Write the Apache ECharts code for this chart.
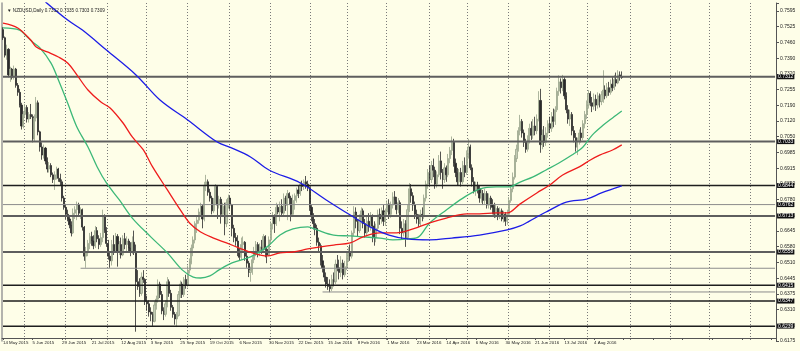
<!DOCTYPE html>
<html>
<head>
<meta charset="utf-8">
<script src="https://cdn.jsdelivr.net/npm/echarts@6.0.0/dist/echarts.min.js"></script>
<style>
  html, body { margin: 0; padding: 0; background: #fefee8; }
  #chart { width: 800px; height: 351px; }
</style>
</head>
<body>
<div id="chart"></div>
<script>
'use strict';

// NZDUSD daily, 14 May 2015 .. late Aug 2016, one row per bar: [open, close, low, high]
const candles = [
  [0.7515,0.7480,0.7470,0.7525],[0.7480,0.7405,0.7395,0.7485],[0.7405,0.7430,0.7385,0.7450],[0.7430,0.7320,0.7310,0.7435],
  [0.7320,0.7345,0.7290,0.7355],[0.7345,0.7310,0.7300,0.7350],[0.7310,0.7345,0.7300,0.7360],[0.7345,0.7275,0.7265,0.7350],
  [0.7275,0.7245,0.7230,0.7285],[0.7245,0.7190,0.7180,0.7260],[0.7190,0.7100,0.7085,0.7200],[0.7100,0.7150,0.7090,0.7165],
  [0.7150,0.7180,0.7135,0.7195],[0.7180,0.7130,0.7115,0.7190],[0.7130,0.7150,0.7115,0.7160],[0.7150,0.7140,0.7130,0.7195],
  [0.7140,0.7045,0.7030,0.7150],[0.7045,0.7135,0.7035,0.7150],[0.7135,0.7200,0.7120,0.7225],[0.7200,0.7075,0.7060,0.7210],
  [0.7075,0.7010,0.6990,0.7080],[0.7010,0.6975,0.6955,0.7030],[0.6975,0.7005,0.6960,0.7020],[0.7005,0.6950,0.6935,0.7010],
  [0.6950,0.6915,0.6900,0.6965],[0.6915,0.6930,0.6900,0.6945],[0.6930,0.6890,0.6880,0.6940],[0.6890,0.6870,0.6855,0.6900],
  [0.6870,0.6890,0.6825,0.6905],[0.6890,0.6915,0.6870,0.6925],[0.6915,0.6875,0.6860,0.6920],[0.6875,0.6860,0.6845,0.6895],
  [0.6860,0.6790,0.6775,0.6870],[0.6790,0.6750,0.6740,0.6800],[0.6750,0.6720,0.6700,0.6765],[0.6720,0.6700,0.6690,0.6740],
  [0.6700,0.6675,0.6660,0.6710],[0.6675,0.6640,0.6625,0.6690],[0.6640,0.6725,0.6635,0.6745],[0.6725,0.6740,0.6700,0.6755],
  [0.6740,0.6760,0.6695,0.6775],[0.6760,0.6725,0.6710,0.6770],[0.6725,0.6740,0.6700,0.6750],[0.6740,0.6665,0.6650,0.6745],
  [0.6665,0.6540,0.6520,0.6670],[0.6540,0.6555,0.6490,0.6580],[0.6555,0.6595,0.6540,0.6610],[0.6595,0.6625,0.6570,0.6640],
  [0.6625,0.6605,0.6585,0.6645],[0.6605,0.6585,0.6570,0.6630],[0.6585,0.6650,0.6575,0.6670],[0.6650,0.6615,0.6600,0.6665],
  [0.6615,0.6590,0.6570,0.6630],[0.6590,0.6620,0.6580,0.6640],[0.6620,0.6715,0.6600,0.6740],[0.6715,0.6650,0.6640,0.6720],
  [0.6650,0.6595,0.6580,0.6665],[0.6595,0.6540,0.6525,0.6610],[0.6540,0.6520,0.6490,0.6560],[0.6520,0.6590,0.6500,0.6610],
  [0.6590,0.6560,0.6545,0.6630],[0.6560,0.6625,0.6555,0.6640],[0.6625,0.6560,0.6495,0.6635],[0.6560,0.6590,0.6545,0.6605],
  [0.6590,0.6545,0.6530,0.6620],[0.6545,0.6615,0.6540,0.6630],[0.6615,0.6590,0.6570,0.6640],[0.6590,0.6605,0.6555,0.6625],
  [0.6605,0.6575,0.6560,0.6615],[0.6575,0.6560,0.6540,0.6600],[0.6560,0.6600,0.6550,0.6625],[0.6600,0.6560,0.6545,0.6650],
  [0.6560,0.6430,0.6215,0.6590],[0.6430,0.6410,0.6395,0.6480],[0.6410,0.6380,0.6365,0.6445],[0.6380,0.6450,0.6370,0.6470],
  [0.6450,0.6440,0.6425,0.6480],[0.6440,0.6345,0.6330,0.6445],[0.6345,0.6335,0.6305,0.6370],[0.6335,0.6300,0.6280,0.6350],
  [0.6300,0.6290,0.6260,0.6320],[0.6290,0.6260,0.6240,0.6300],[0.6260,0.6330,0.6255,0.6345],[0.6330,0.6355,0.6310,0.6370],
  [0.6355,0.6420,0.6340,0.6440],[0.6420,0.6375,0.6360,0.6430],[0.6375,0.6305,0.6290,0.6390],[0.6305,0.6290,0.6265,0.6320],
  [0.6290,0.6335,0.6280,0.6350],[0.6335,0.6430,0.6320,0.6450],[0.6430,0.6380,0.6365,0.6440],[0.6380,0.6320,0.6305,0.6395],
  [0.6320,0.6290,0.6275,0.6330],[0.6290,0.6270,0.6245,0.6300],[0.6270,0.6285,0.6235,0.6300],[0.6285,0.6375,0.6280,0.6390],
  [0.6375,0.6420,0.6360,0.6435],[0.6420,0.6375,0.6360,0.6430],[0.6375,0.6440,0.6365,0.6450],[0.6440,0.6415,0.6400,0.6460],
  [0.6415,0.6480,0.6405,0.6500],[0.6480,0.6515,0.6465,0.6530],[0.6515,0.6575,0.6505,0.6590],[0.6575,0.6610,0.6540,0.6625],
  [0.6610,0.6680,0.6595,0.6690],[0.6680,0.6695,0.6640,0.6710],[0.6695,0.6730,0.6680,0.6745],[0.6730,0.6755,0.6715,0.6770],
  [0.6755,0.6700,0.6660,0.6760],[0.6700,0.6845,0.6690,0.6860],[0.6845,0.6860,0.6820,0.6890],[0.6860,0.6815,0.6800,0.6870],
  [0.6815,0.6790,0.6775,0.6830],[0.6790,0.6735,0.6720,0.6800],[0.6735,0.6775,0.6725,0.6790],[0.6775,0.6840,0.6765,0.6850],
  [0.6840,0.6760,0.6700,0.6845],[0.6760,0.6785,0.6745,0.6800],[0.6785,0.6720,0.6680,0.6795],[0.6720,0.6755,0.6710,0.6770],
  [0.6755,0.6680,0.6630,0.6770],[0.6680,0.6770,0.6665,0.6785],[0.6770,0.6790,0.6745,0.6805],[0.6790,0.6760,0.6740,0.6800],
  [0.6760,0.6660,0.6625,0.6765],[0.6660,0.6620,0.6600,0.6675],[0.6620,0.6605,0.6585,0.6640],[0.6605,0.6560,0.6540,0.6630],
  [0.6560,0.6535,0.6520,0.6575],[0.6535,0.6590,0.6525,0.6620],[0.6590,0.6600,0.6560,0.6625],[0.6600,0.6540,0.6520,0.6605],
  [0.6540,0.6510,0.6490,0.6560],[0.6510,0.6470,0.6450,0.6520],[0.6470,0.6480,0.6430,0.6495],[0.6480,0.6525,0.6460,0.6540],
  [0.6525,0.6560,0.6510,0.6580],[0.6560,0.6590,0.6540,0.6605],[0.6590,0.6555,0.6535,0.6600],[0.6555,0.6580,0.6540,0.6595],
  [0.6580,0.6570,0.6550,0.6610],[0.6570,0.6625,0.6555,0.6635],[0.6625,0.6570,0.6535,0.6630],[0.6570,0.6545,0.6510,0.6580],
  [0.6545,0.6610,0.6540,0.6625],[0.6610,0.6680,0.6595,0.6690],[0.6680,0.6710,0.6655,0.6730],[0.6710,0.6680,0.6640,0.6720],
  [0.6680,0.6750,0.6670,0.6770],[0.6750,0.6730,0.6720,0.6760],[0.6730,0.6755,0.6690,0.6775],[0.6755,0.6725,0.6715,0.6785],
  [0.6725,0.6790,0.6715,0.6810],[0.6790,0.6760,0.6735,0.6800],[0.6760,0.6810,0.6695,0.6825],[0.6810,0.6790,0.6760,0.6815],
  [0.6790,0.6720,0.6690,0.6800],[0.6720,0.6780,0.6710,0.6805],[0.6780,0.6800,0.6740,0.6810],[0.6800,0.6825,0.6770,0.6835],
  [0.6825,0.6810,0.6790,0.6845],[0.6810,0.6850,0.6800,0.6860],[0.6850,0.6840,0.6820,0.6865],[0.6840,0.6860,0.6825,0.6870],
  [0.6860,0.6850,0.6830,0.6885],[0.6850,0.6835,0.6820,0.6865],[0.6835,0.6750,0.6735,0.6840],[0.6750,0.6715,0.6690,0.6760],
  [0.6715,0.6680,0.6655,0.6725],[0.6680,0.6660,0.6630,0.6700],[0.6660,0.6600,0.6585,0.6675],[0.6600,0.6585,0.6560,0.6620],
  [0.6585,0.6520,0.6500,0.6595],[0.6520,0.6490,0.6470,0.6545],[0.6490,0.6450,0.6430,0.6500],[0.6450,0.6420,0.6405,0.6470],
  [0.6420,0.6410,0.6395,0.6450],[0.6410,0.6400,0.6385,0.6440],[0.6400,0.6440,0.6390,0.6460],[0.6440,0.6430,0.6410,0.6470],
  [0.6430,0.6505,0.6420,0.6525],[0.6505,0.6490,0.6475,0.6545],[0.6490,0.6470,0.6440,0.6525],[0.6470,0.6510,0.6450,0.6540],
  [0.6510,0.6460,0.6440,0.6525],[0.6460,0.6495,0.6450,0.6520],[0.6495,0.6535,0.6480,0.6560],[0.6535,0.6555,0.6515,0.6580],
  [0.6555,0.6540,0.6520,0.6590],[0.6540,0.6640,0.6530,0.6650],[0.6640,0.6730,0.6625,0.6755],[0.6730,0.6690,0.6660,0.6750],
  [0.6690,0.6650,0.6625,0.6700],[0.6650,0.6700,0.6640,0.6720],[0.6700,0.6735,0.6680,0.6750],[0.6735,0.6680,0.6660,0.6745],
  [0.6680,0.6640,0.6620,0.6700],[0.6640,0.6690,0.6625,0.6710],[0.6690,0.6665,0.6645,0.6725],[0.6665,0.6710,0.6650,0.6730],
  [0.6710,0.6670,0.6600,0.6720],[0.6670,0.6620,0.6585,0.6690],[0.6620,0.6660,0.6600,0.6680],[0.6660,0.6720,0.6650,0.6740],
  [0.6720,0.6700,0.6675,0.6745],[0.6700,0.6735,0.6680,0.6750],[0.6735,0.6690,0.6670,0.6760],[0.6690,0.6730,0.6670,0.6745],
  [0.6730,0.6765,0.6710,0.6780],[0.6765,0.6720,0.6700,0.6785],[0.6720,0.6760,0.6705,0.6775],[0.6760,0.6795,0.6745,0.6815],
  [0.6795,0.6780,0.6760,0.6820],[0.6780,0.6740,0.6720,0.6795],[0.6740,0.6770,0.6725,0.6790],[0.6770,0.6660,0.6635,0.6780],
  [0.6660,0.6640,0.6610,0.6690],[0.6640,0.6680,0.6625,0.6700],[0.6680,0.6620,0.6580,0.6695],[0.6620,0.6740,0.6610,0.6760],
  [0.6740,0.6830,0.6730,0.6855],[0.6830,0.6800,0.6770,0.6850],[0.6800,0.6760,0.6735,0.6815],[0.6760,0.6720,0.6700,0.6775],
  [0.6720,0.6700,0.6680,0.6740],[0.6700,0.6680,0.6665,0.6720],[0.6680,0.6720,0.6670,0.6740],[0.6720,0.6710,0.6690,0.6750],
  [0.6710,0.6790,0.6700,0.6805],[0.6790,0.6850,0.6775,0.6865],[0.6850,0.6900,0.6830,0.6915],[0.6900,0.6870,0.6845,0.6930],
  [0.6870,0.6930,0.6855,0.6950],[0.6930,0.6910,0.6880,0.6960],[0.6910,0.6850,0.6830,0.6925],[0.6850,0.6890,0.6835,0.6905],
  [0.6890,0.6950,0.6880,0.6975],[0.6950,0.6900,0.6870,0.6990],[0.6900,0.6870,0.6830,0.6915],[0.6870,0.6920,0.6855,0.6940],
  [0.6920,0.6890,0.6860,0.6930],[0.6890,0.6960,0.6880,0.6980],[0.6960,0.6995,0.6940,0.7010],[0.6995,0.7030,0.6975,0.7055],
  [0.7030,0.6940,0.6925,0.7045],[0.6940,0.6900,0.6880,0.6960],[0.6900,0.6860,0.6845,0.6920],[0.6860,0.6900,0.6845,0.6915],
  [0.6900,0.6860,0.6840,0.6920],[0.6860,0.6930,0.6850,0.6950],[0.6930,0.6900,0.6880,0.6965],[0.6900,0.6980,0.6890,0.6995],
  [0.6980,0.7010,0.6960,0.7045],[0.7010,0.6920,0.6910,0.7020],[0.6920,0.6860,0.6840,0.6935],[0.6860,0.6820,0.6810,0.6880],
  [0.6820,0.6845,0.6800,0.6860],[0.6845,0.6830,0.6810,0.6860],[0.6830,0.6790,0.6770,0.6845],[0.6790,0.6810,0.6770,0.6830],
  [0.6810,0.6780,0.6760,0.6825],[0.6780,0.6810,0.6765,0.6830],[0.6810,0.6760,0.6745,0.6820],[0.6760,0.6790,0.6745,0.6810],
  [0.6790,0.6760,0.6740,0.6800],[0.6760,0.6750,0.6720,0.6785],[0.6750,0.6720,0.6705,0.6770],[0.6720,0.6745,0.6705,0.6765],
  [0.6745,0.6710,0.6695,0.6755],[0.6710,0.6735,0.6700,0.6750],[0.6735,0.6700,0.6690,0.6745],[0.6700,0.6720,0.6685,0.6735],
  [0.6720,0.6690,0.6670,0.6730],[0.6690,0.6720,0.6675,0.6740],[0.6720,0.6780,0.6710,0.6795],[0.6780,0.6830,0.6770,0.6845],
  [0.6830,0.6880,0.6815,0.6900],[0.6880,0.6960,0.6870,0.6975],[0.6960,0.7000,0.6945,0.7020],[0.7000,0.7080,0.6990,0.7095],
  [0.7080,0.7120,0.7060,0.7148],[0.7120,0.7070,0.7050,0.7130],[0.7070,0.7030,0.7010,0.7085],[0.7030,0.7000,0.6985,0.7045],
  [0.7000,0.7040,0.6990,0.7060],[0.7040,0.7090,0.7025,0.7110],[0.7090,0.7060,0.7040,0.7120],[0.7060,0.7100,0.7045,0.7130],
  [0.7100,0.7080,0.7060,0.7140],[0.7080,0.7130,0.7065,0.7150],[0.7130,0.7210,0.7120,0.7250],[0.7210,0.7020,0.6985,0.7260],
  [0.7020,0.7060,0.7000,0.7085],[0.7060,0.7030,0.7010,0.7100],[0.7030,0.7070,0.7015,0.7095],[0.7070,0.7110,0.7050,0.7125],
  [0.7110,0.7090,0.7070,0.7140],[0.7090,0.7140,0.7075,0.7160],[0.7140,0.7120,0.7095,0.7175],[0.7120,0.7170,0.7105,0.7185],
  [0.7170,0.7250,0.7160,0.7265],[0.7250,0.7290,0.7230,0.7318],[0.7290,0.7265,0.7240,0.7305],[0.7265,0.7300,0.7250,0.7320],
  [0.7300,0.7230,0.7215,0.7310],[0.7230,0.7170,0.7155,0.7245],[0.7170,0.7130,0.7110,0.7190],[0.7130,0.7150,0.7100,0.7170],
  [0.7150,0.7080,0.7060,0.7160],[0.7080,0.7050,0.7030,0.7100],[0.7050,0.7010,0.6990,0.7070],[0.7010,0.7035,0.6975,0.7050],
  [0.7035,0.7070,0.7020,0.7085],[0.7070,0.7050,0.7030,0.7095],[0.7050,0.7110,0.7040,0.7125],[0.7110,0.7150,0.7090,0.7165],
  [0.7150,0.7190,0.7130,0.7210],[0.7190,0.7240,0.7175,0.7255],[0.7240,0.7200,0.7185,0.7250],[0.7200,0.7185,0.7160,0.7225],
  [0.7185,0.7215,0.7170,0.7240],[0.7215,0.7190,0.7165,0.7235],[0.7190,0.7230,0.7175,0.7245],[0.7230,0.7205,0.7180,0.7240],
  [0.7205,0.7235,0.7190,0.7250],[0.7235,0.7255,0.7200,0.7340],[0.7255,0.7230,0.7215,0.7275],[0.7230,0.7265,0.7220,0.7285],
  [0.7265,0.7245,0.7230,0.7290],[0.7245,0.7280,0.7235,0.7300],[0.7280,0.7265,0.7250,0.7310],[0.7265,0.7300,0.7255,0.7320],
  [0.7300,0.7285,0.7270,0.7330],[0.7285,0.7320,0.7280,0.7340],[0.7320,0.7312,0.7295,0.7335],[0.7312,0.7309,0.7303,0.7335]
];

// moving averages: [bar index, price]
const maGreen = [
  [0,0.7522],[9,0.7513],[12,0.7492],[16,0.7462],[20,0.7436],[26,0.7371],[30,0.7298],[35,0.7199],[40,0.7096],
  [46,0.7010],[51,0.6924],[56,0.6855],[63,0.6782],[70,0.6704],[80,0.6623],[89,0.6554],[97,0.6481],[103,0.6450],
  [107,0.6446],[112,0.6455],[117,0.6481],[124,0.6511],[134,0.6537],[143,0.6580],[150,0.6631],[157,0.6657],
  [165,0.6666],[170,0.6653],[179,0.6631],[188,0.6627],[195,0.6623],[204,0.6618],[211,0.6610],[219,0.6614],
  [225,0.6623],[231,0.6683],[240,0.6739],[249,0.6790],[258,0.6829],[267,0.6838],[274,0.6838],[280,0.6859],
  [287,0.6881],[294,0.6911],[301,0.6941],[308,0.6975],[314,0.7010],[319,0.7061],[325,0.7104],[330,0.7135],[335,0.7165]
];
const maRed = [
  [0,0.7543],[8,0.7522],[15,0.7470],[18,0.7440],[24,0.7419],[30,0.7397],[35,0.7371],[40,0.7320],[46,0.7255],
  [53,0.7203],[58,0.7178],[65,0.7113],[70,0.7053],[76,0.6997],[81,0.6924],[89,0.6825],[96,0.6739],[101,0.6683],
  [107,0.6644],[114,0.6618],[121,0.6597],[128,0.6575],[135,0.6554],[143,0.6541],[150,0.6554],[157,0.6558],
  [165,0.6571],[172,0.6580],[179,0.6588],[188,0.6597],[195,0.6623],[204,0.6640],[213,0.6640],[222,0.6657],
  [231,0.6683],[240,0.6704],[251,0.6722],[258,0.6722],[267,0.6726],[273,0.6726],[280,0.6765],[289,0.6812],
  [296,0.6846],[303,0.6889],[312,0.6924],[318,0.6954],[323,0.6975],[330,0.6997],[335,0.7019]
];
const maBlue = [
  [23,0.7634],[35,0.7556],[43,0.7513],[56,0.7427],[72,0.7320],[85,0.7212],[100,0.7126],[116,0.7031],[124,0.7005],
  [134,0.6967],[144,0.6911],[161,0.6855],[175,0.6782],[188,0.6717],[200,0.6661],[209,0.6631],[219,0.6614],
  [231,0.6610],[243,0.6618],[258,0.6631],[273,0.6653],[280,0.6670],[285,0.6691],[294,0.6730],[305,0.6773],
  [316,0.6786],[324,0.6812],[335,0.6842]
];

// horizontal price levels
const heavyLevels = [0.7312, 0.7033, 0.6713, 0.6558];
const darkLevels = [0.6844, 0.6415, 0.6347, 0.6239];
const lightLevels = [0.6762];
const partialLevels = [[42, 0.6488], [173, 0.6386]];   // [first bar, price]

// axis texts
const dateLabels = ['14 May 2015','5 Jun 2015','29 Jun 2015','21 Jul 2015','12 Aug 2015','3 Sep 2015','25 Sep 2015',
  '19 Oct 2015','6 Nov 2015','30 Nov 2015','22 Dec 2015','15 Jan 2016','8 Feb 2016','1 Mar 2016','23 Mar 2016',
  '14 Apr 2016','6 May 2016','30 May 2016','21 Jun 2016','13 Jul 2016','4 Aug 2016'];
const monthStarts = [12, 34, 57, 78, 100, 123, 145, 167, 187, 208, 231, 252, 274, 296, 317, 340, 362, 383, 405];
const priceTicks = ['0.6175','0.6240','0.6310','0.6375','0.6445','0.6510','0.6580','0.6645','0.6715','0.6780','0.6850',
  '0.6915','0.6985','0.7050','0.7120','0.7190','0.7255','0.7320','0.7390','0.7460','0.7525','0.7595'];
const titleText = '\u25BC NZDUSD,Daily 0.7312 0.7335 0.7303 0.7309';

(function () {
  const FONT = 'Liberation Sans, Arial, sans-serif';
  const SLOTS = 419;           // bars + empty space on the right
  const LAST = SLOTS - 1;
  const LABEL_EVERY = 16;
  const Y_MIN = 0.6175;
  const Y_MAX = 0.76294;
  const TICK_STEP = (0.7595 - 0.6175) / 21;

  const categories = Array.from({ length: SLOTS }, (_, i) => String(i));
  const monthSet = new Set(monthStarts);

  // one horizontal level as its own line series, tag drawn as end label
  function levelSeries(price, startBar, color, width, withTag) {
    return {
      type: 'line',
      data: [[startBar, price], [LAST, price]],
      symbol: 'none',
      showSymbol: false,
      silent: true,
      z: 3,
      lineStyle: { color: color, width: width },
      endLabel: withTag ? {
        show: true,
        distance: 2,
        formatter: () => price.toFixed(4),
        color: '#ffffff',
        backgroundColor: '#111111',
        fontFamily: FONT,
        fontSize: 5,
        lineHeight: 5,
        padding: [0, 1, 0, 1]
      } : { show: false }
    };
  }

  function maSeries(data, color) {
    return {
      type: 'line',
      data: data,
      smooth: 0.35,
      showSymbol: false,
      symbol: 'none',
      clip: true,
      silent: true,
      z: 4,
      lineStyle: { color: color, width: 1.3 }
    };
  }

  const levelList = [];
  heavyLevels.forEach((v) => levelList.push(levelSeries(v, 0, '#5e5e5e', 2, true)));
  darkLevels.forEach((v) => levelList.push(levelSeries(v, 0, '#1e1e1e', 1.5, true)));
  lightLevels.forEach((v) => levelList.push(levelSeries(v, 0, '#8c8c8c', 1, true)));
  partialLevels.forEach((p) => levelList.push(levelSeries(p[1], p[0], '#8c8c8c', 1, false)));

  const chart = echarts.init(document.getElementById('chart'), null, { renderer: 'canvas' });
  chart.setOption({
    animation: false,
    backgroundColor: '#fefee8',
    textStyle: { fontFamily: FONT },
    title: {
      text: titleText,
      left: 2,
      top: 3,
      textStyle: { fontSize: 4.6, fontWeight: 'normal', color: '#222', fontFamily: FONT }
    },
    grid: { left: 2, right: 24, top: 3, bottom: 10, containLabel: false },
    xAxis: {
      type: 'category',
      data: categories,
      boundaryGap: true,
      offset: -3,
      axisLine: { show: true, lineStyle: { color: '#555', width: 1 } },
      axisTick: { show: true, interval: LABEL_EVERY - 1, alignWithLabel: true, length: 2, lineStyle: { color: '#555' } },
      axisLabel: {
        interval: LABEL_EVERY - 1,
        align: 'left',
        margin: 3,
        fontSize: 4.4,
        color: '#222',
        fontFamily: FONT,
        formatter: (value) => {
          const i = Number(value);
          if (i % LABEL_EVERY !== 0) return '';
          return dateLabels[i / LABEL_EVERY] || '';
        }
      },
      splitLine: {
        show: true,
        interval: (index) => monthSet.has(index),
        lineStyle: { color: '#7a7a7a', width: 1, type: [1, 2] }
      }
    },
    yAxis: [{
      type: 'value',
      position: 'right',
      min: Y_MIN,
      max: Y_MAX,
      interval: TICK_STEP,
      axisLine: { show: true, lineStyle: { color: '#555', width: 1 } },
      axisTick: { show: true, length: 3, lineStyle: { color: '#555' } },
      splitLine: { show: false },
      axisLabel: {
        margin: 4,
        fontSize: 5,
        color: '#222',
        fontFamily: FONT,
        formatter: (v) => {
          const k = (v - Y_MIN) / TICK_STEP;
          const r = Math.round(k);
          if (Math.abs(k - r) > 0.05) return '';
          return priceTicks[r] || '';
        }
      }
    }, {
      type: 'value',
      position: 'left',
      min: Y_MIN,
      max: Y_MAX,
      axisLine: { show: true, lineStyle: { color: '#9a9a9a', width: 1.5 } },
      axisTick: { show: false },
      axisLabel: { show: false },
      splitLine: { show: false }
    }],
    series: [{
      type: 'candlestick',
      data: candles,
      barWidth: 1.6,
      clip: true,
      z: 2,
      itemStyle: {
        color: '#c3cab4',
        color0: '#2a2a2a',
        borderColor: '#98a38a',
        borderColor0: '#2a2a2a',
        borderWidth: 0.8
      }
    },
    ...levelList,
    maSeries(maGreen, '#3cb878'),
    maSeries(maRed, '#ee1c1c'),
    maSeries(maBlue, '#1c1ce6')]
  });
})();
</script>
</body>
</html>
